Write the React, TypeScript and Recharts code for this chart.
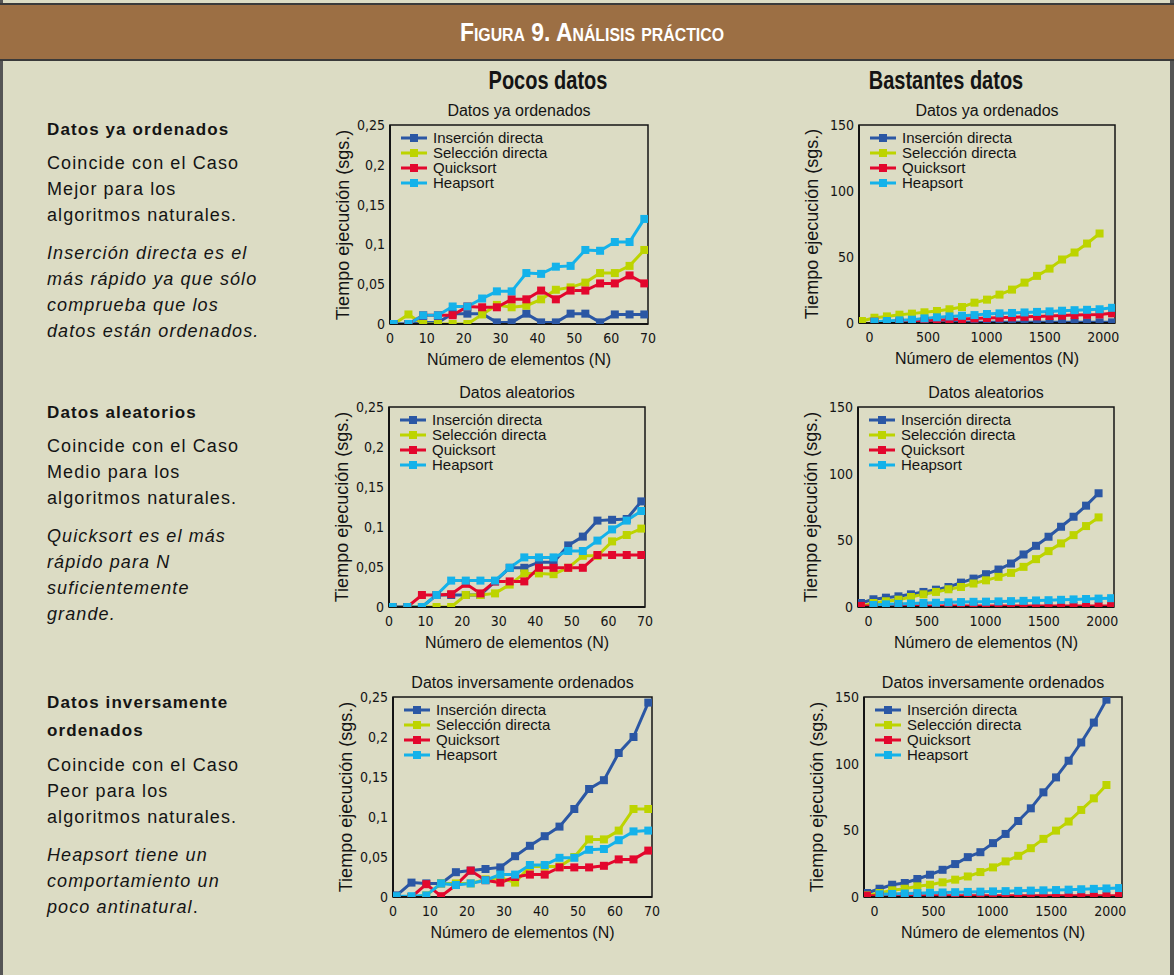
import { LineChart, Line, XAxis, YAxis, Legend, ReferenceArea } from "recharts"

const SANS = "'Liberation Sans', Arial, Helvetica, sans-serif"
const NARROW = "'Liberation Sans Narrow', 'Arial Narrow', 'DejaVu Sans Condensed', sans-serif"
const INK = "#141414"
const BG = "#dcdcc4"

const SERIES = [
  { key: "ins", name: "Inserción directa", color: "#2b57a4" },
  { key: "sel", name: "Selección directa", color: "#bdd400" },
  { key: "qs", name: "Quicksort", color: "#e3072d" },
  { key: "hs", name: "Heapsort", color: "#14b2ea" },
]

// x values (N)
const X_POCOS = [1, 5, 9, 13, 17, 21, 25, 29, 33, 37, 41, 45, 49, 53, 57, 61, 65, 69]
const X_BASTANTES = [-65, 42, 149, 256, 363, 470, 577, 684, 791, 898, 1005, 1112, 1219, 1326, 1433, 1540, 1647, 1754, 1861, 1968, 2075]

const TICKS_X_POCOS = [0, 10, 20, 30, 40, 50, 60, 70]
const TICKS_X_BASTANTES = [0, 500, 1000, 1500, 2000]
const TICKS_Y_POCOS = [0, 0.05, 0.1, 0.15, 0.2, 0.25]
const TICKS_Y_BASTANTES = [0, 50, 100, 150]

// Pocos datos - ya ordenados
const ORD_P_INS = [0, 0, 0.002, 0.002, 0.013, 0.013, 0.013, 0.002, 0.002, 0.013, 0.002, 0.002, 0.013, 0.013, 0.002, 0.012, 0.012, 0.012]
const ORD_P_SEL = [0, 0.012, 0, 0, 0, 0, 0.012, 0.024, 0.021, 0.023, 0.031, 0.043, 0.046, 0.052, 0.064, 0.064, 0.073, 0.093]
const ORD_P_QS = [0, 0, 0.011, 0.011, 0.011, 0.022, 0.021, 0.021, 0.031, 0.031, 0.042, 0.031, 0.042, 0.042, 0.051, 0.051, 0.061, 0.051]
const ORD_P_HS = [0, 0, 0.011, 0.011, 0.022, 0.022, 0.032, 0.041, 0.041, 0.064, 0.063, 0.072, 0.073, 0.093, 0.092, 0.103, 0.103, 0.132]

// Pocos datos - aleatorios
const ALE_P_INS = [0, 0, 0, 0.015, 0.015, 0.015, 0.015, 0.032, 0.049, 0.049, 0.056, 0.056, 0.077, 0.088, 0.108, 0.109, 0.11, 0.132]
const ALE_P_SEL = [0, 0, 0, 0, 0, 0.015, 0.015, 0.017, 0.028, 0.042, 0.042, 0.041, 0.049, 0.064, 0.064, 0.082, 0.09, 0.098]
const ALE_P_QS = [0, 0, 0.015, 0.015, 0.016, 0.029, 0.017, 0.032, 0.032, 0.032, 0.049, 0.049, 0.049, 0.049, 0.065, 0.065, 0.065, 0.065]
const ALE_P_HS = [0, 0, 0, 0.015, 0.033, 0.033, 0.033, 0.033, 0.049, 0.062, 0.062, 0.062, 0.07, 0.07, 0.083, 0.097, 0.108, 0.12]

// Pocos datos - inversamente ordenados
const INV_P_INS = [0.002, 0.018, 0.017, 0.017, 0.031, 0.033, 0.035, 0.037, 0.051, 0.064, 0.076, 0.088, 0.11, 0.135, 0.146, 0.18, 0.2, 0.243]
const INV_P_SEL = [0, 0, 0.002, 0.017, 0.017, 0.017, 0.022, 0.024, 0.018, 0.038, 0.038, 0.038, 0.05, 0.072, 0.072, 0.083, 0.11, 0.11]
const INV_P_QS = [0, 0, 0.016, 0.001, 0.015, 0.033, 0.021, 0.018, 0.025, 0.028, 0.028, 0.037, 0.037, 0.037, 0.039, 0.047, 0.047, 0.058]
const INV_P_HS = [0.001, 0.001, 0.002, 0.017, 0.015, 0.017, 0.021, 0.028, 0.028, 0.04, 0.04, 0.049, 0.049, 0.059, 0.06, 0.071, 0.082, 0.083]

// Bastantes datos - ya ordenados
const ORD_B_INS = [null, 0.5, 0.5, 0.5, 0.5, 0.5, 0.5, 0.5, 0.5, 0.5, 0.5, 0.5, 0.5, 0.5, 0.5, 0.5, 0.5, 0.5, 0.5, 0.5, 0.5]
const ORD_B_SEL = [1.5, 4, 5, 6.3, 7.1, 8.1, 9.1, 10.4, 12.1, 15.4, 17.7, 21.5, 25.3, 30.6, 35.7, 41.2, 48.1, 53.4, 60.2, 67.8, null]
const ORD_B_QS = [null, 1, 1, 1.2, 1.5, 1.8, 2.2, 2.5, 3, 3.5, 3.8, 4, 4.3, 4.7, 5, 5.3, 5.6, 6, 6.2, 6.5, 7.3]
const ORD_B_HS = [null, 1, 1.5, 2, 2.5, 3.5, 4.3, 5, 5.5, 6, 6.8, 7.3, 7.6, 8, 8.4, 8.8, 9.3, 9.7, 10, 10.4, 11.5]

// Bastantes datos - aleatorios
const ALE_B_INS = [3, 5.8, 7, 8, 9.5, 11.3, 13, 15, 18.3, 21.3, 24.6, 28.1, 32.6, 39.4, 45.9, 52.7, 60.2, 67.7, 76, 85.3, null]
const ALE_B_SEL = [0.5, 3, 4.3, 5.5, 7.5, 9.5, 11.3, 13.3, 15, 17.6, 20, 22.6, 25.6, 30.1, 35.9, 41.9, 47.7, 53.9, 60.7, 67.2, null]
const ALE_B_QS = [0.8, 0.8, 0.8, 0.8, 0.8, 0.8, 0.8, 0.8, 0.8, 0.8, 0.8, 0.8, 0.8, 0.8, 0.8, 0.8, 0.8, 0.8, 0.8, 0.8, 0.8]
const ALE_B_HS = [null, 1.5, 2, 2.3, 2.6, 3, 3.2, 3.5, 3.7, 3.9, 4, 4.2, 4.4, 4.6, 4.9, 5.1, 5.4, 5.7, 6, 6.3, 6.6]

// Bastantes datos - inversamente ordenados
const INV_B_INS = [3, 6.2, 9.2, 10.5, 13.5, 16.7, 20.4, 24.7, 29.9, 33.6, 40.4, 47.3, 57, 66.5, 78.5, 89.7, 102.2, 115.9, 130.8, 148, null]
const INV_B_SEL = [1.2, 3, 5, 6.2, 8, 9.2, 11, 13, 15.4, 18.7, 22.2, 26.7, 30.9, 36.6, 43.6, 49.8, 56.6, 65.3, 74, 84, null]
const INV_B_QS = [1, 1, 1, 1, 1, 1, 1, 1, 1, 1, 1, 1, 1, 1, 1, 1, 1, 1, 1, 1, 1]
const INV_B_HS = [null, 2, 2.3, 2.6, 2.9, 3.2, 3.4, 3.6, 3.8, 4, 4.2, 4.4, 4.6, 4.8, 5, 5.2, 5.5, 5.8, 6.1, 6.4, 6.7]

const PAD_L = 60
const PAD_T = 30
const PAD_R = 12
const PAD_B = 50

function Square(props: any) {
  const { cx, cy, stroke, value, index } = props
  if (cx == null || cy == null || value == null || Number.isNaN(cy)) return <g key={`d${index}`} />
  return <rect key={`d${index}`} x={cx - 4} y={cy - 4} width={8} height={8} fill={stroke} />
}

function LegendBox({ payload }: any) {
  const items = [...(payload ?? [])].sort(
    (a: any, b: any) =>
      SERIES.findIndex((s) => s.key === a.dataKey) - SERIES.findIndex((s) => s.key === b.dataKey)
  )
  return (
    <div style={{ fontFamily: SANS, fontSize: 15, color: INK }}>
      {items.map((p: any) => (
        <div key={p.dataKey} style={{ display: "flex", alignItems: "center", height: 15 }}>
          <svg width={30} height={10} style={{ flex: "none" }}>
            <line x1={1} y1={5} x2={27} y2={5} stroke={p.color} strokeWidth={3} />
            <rect x={10} y={1} width={8} height={8} fill={p.color} />
          </svg>
          <span style={{ marginLeft: 3, whiteSpace: "nowrap" }}>{p.value}</span>
        </div>
      ))}
    </div>
  )
}

function Text({ x, y, children, style, rotate, sx }: any) {
  return (
    <div
      style={{
        position: "absolute",
        left: x,
        top: y,
        transform: `translate(-50%, -50%)${rotate ? " rotate(-90deg)" : ""}${sx ? ` scaleX(${sx})` : ""}`,
        whiteSpace: "nowrap",
        color: INK,
        ...style,
      }}
    >
      {children}
    </div>
  )
}

function SortChart(props: any) {
  const { px, py, pw, ph, title, xs, ins, sel, qs, hs, big } = props
  const data = xs.map((x: number, i: number) => ({ x, ins: ins[i], sel: sel[i], qs: qs[i], hs: hs[i] }))
  const xDomain = big ? [-90, 2100] : [0, 70]
  const yDomain = big ? [0, 150] : [0, 0.25]
  const w = pw + PAD_L + PAD_R
  const h = ph + PAD_T + PAD_B
  const tickStyle = { fontFamily: NARROW, fontSize: 14, fill: INK }
  return (
    <>
      <Text x={px + pw / 2} y={py - 14} style={{ fontFamily: SANS, fontSize: 16 }}>
        {title}
      </Text>
      <Text x={px - 47} y={py + ph / 2} rotate style={{ fontFamily: SANS, fontSize: 18 }}>
        Tiempo ejecución (sgs.)
      </Text>
      <Text x={px + pw / 2} y={py + ph + 36} style={{ fontFamily: SANS, fontSize: 16 }}>
        Número de elementos (N)
      </Text>
      <div style={{ position: "absolute", left: px - PAD_L, top: py - PAD_T, width: w, height: h }}>
        <LineChart width={w} height={h} data={data} margin={{ top: PAD_T, right: PAD_R, bottom: 0, left: 0 }}>
          <XAxis
            dataKey="x"
            type="number"
            domain={xDomain}
            ticks={big ? TICKS_X_BASTANTES : TICKS_X_POCOS}
            interval={0}
            allowDataOverflow
            height={PAD_B}
            tickLine={false}
            tickSize={0}
            tickMargin={9}
            axisLine={{ stroke: INK, strokeWidth: 2 }}
            tick={tickStyle}
          />
          <YAxis
            type="number"
            domain={yDomain}
            ticks={big ? TICKS_Y_BASTANTES : TICKS_Y_POCOS}
            interval={0}
            allowDataOverflow
            width={PAD_L}
            tickLine={false}
            tickSize={0}
            tickMargin={5}
            axisLine={{ stroke: INK, strokeWidth: 2 }}
            tick={tickStyle}
            tickFormatter={(v: number) => String(v).replace(".", ",")}
          />
          <ReferenceArea
            x1={xDomain[0]}
            x2={xDomain[1]}
            y1={yDomain[0]}
            y2={yDomain[1]}
            fill="none"
            stroke={INK}
            strokeWidth={1.5}
            fillOpacity={0}
            ifOverflow="extendDomain"
          />
          <Legend
            layout="vertical"
            align="center"
            verticalAlign="middle"
            content={<LegendBox />}
            wrapperStyle={{ position: "absolute", top: PAD_T + 5, left: PAD_L + 10, width: "auto", height: "auto" }}
          />
          {SERIES.map((s) => (
            <Line
              key={s.key}
              type="linear"
              dataKey={s.key}
              name={s.name}
              stroke={s.color}
              strokeWidth={3}
              dot={<Square />}
              activeDot={false}
              connectNulls={false}
              isAnimationActive={false}
            />
          ))}
        </LineChart>
      </div>
    </>
  )
}

function Block({ top, heading, body, note, headLine = 26 }: any) {
  return (
    <div style={{ position: "absolute", left: 47, top, fontFamily: SANS, color: INK, letterSpacing: 1.1 }}>
      <div style={{ fontWeight: "bold", fontSize: 17, lineHeight: `${headLine}px` }}>
        {heading.map((l: string, i: number) => (
          <div key={i}>{l}</div>
        ))}
      </div>
      <div style={{ fontSize: 18, lineHeight: "26px", marginTop: 7 }}>
        {body.map((l: string, i: number) => (
          <div key={i}>{l}</div>
        ))}
      </div>
      <div style={{ fontSize: 18, lineHeight: "26px", marginTop: 12, fontStyle: "italic" }}>
        {note}
      </div>
    </div>
  )
}

export default function App() {
  return (
    <div
      style={{
        position: "absolute",
        left: 0,
        top: 0,
        width: 1174,
        height: 975,
        background: BG,
        overflow: "hidden",
        fontFamily: SANS,
      }}
    >
      <div style={{ position: "absolute", left: 0, top: 0, width: 3, height: 975, background: "#555" }} />
      <div style={{ position: "absolute", left: 1170, top: 0, width: 4, height: 975, background: "#555" }} />
      <div
        style={{
          position: "absolute",
          left: 0,
          top: 3,
          width: 1174,
          height: 54,
          background: "#9c6f44",
          borderTop: "2px solid #3a3a3a",
          borderBottom: "2px solid #3a3a3a",
        }}
      />
      <Text
        x={592}
        y={32}
        sx={0.88}
        style={{ fontFamily: SANS, fontWeight: "bold", fontSize: 26, color: "#fff", fontVariant: "small-caps" }}
      >
        Figura 9. Análisis práctico
      </Text>
      <Text x={548} y={80} sx={0.8} style={{ fontFamily: SANS, fontWeight: "bold", fontSize: 25 }}>
        Pocos datos
      </Text>
      <Text x={946} y={80} sx={0.8} style={{ fontFamily: SANS, fontWeight: "bold", fontSize: 25 }}>
        Bastantes datos
      </Text>

      <Block
        top={117}
        heading={["Datos ya ordenados"]}
        body={["Coincide con el Caso", "Mejor para los", "algoritmos naturales."]}
        note={
          <>
            <div>Inserción directa es el</div>
            <div>más rápido ya que sólo</div>
            <div>comprueba que los</div>
            <div>datos están ordenados.</div>
          </>
        }
      />
      <Block
        top={400}
        heading={["Datos aleatorios"]}
        body={["Coincide con el Caso", "Medio para los", "algoritmos naturales."]}
        note={
          <>
            <div>Quicksort es el más</div>
            <div>rápido para N</div>
            <div>suficientemente</div>
            <div>grande.</div>
          </>
        }
      />
      <Block
        top={689}
        headLine={28}
        heading={["Datos inversamente", "ordenados"]}
        body={["Coincide con el Caso", "Peor para los", "algoritmos naturales."]}
        note={
          <>
            <div>Heapsort tiene un</div>
            <div>comportamiento un</div>
            <div>
              poco antinatural<span style={{ fontStyle: "normal" }}>.</span>
            </div>
          </>
        }
      />

      <SortChart px={390} py={125} pw={258} ph={199} title="Datos ya ordenados" xs={X_POCOS}
        ins={ORD_P_INS} sel={ORD_P_SEL} qs={ORD_P_QS} hs={ORD_P_HS} />
      <SortChart px={859} py={125} pw={256} ph={198} title="Datos ya ordenados" xs={X_BASTANTES} big
        ins={ORD_B_INS} sel={ORD_B_SEL} qs={ORD_B_QS} hs={ORD_B_HS} />
      <SortChart px={389} py={407} pw={256} ph={200} title="Datos aleatorios" xs={X_POCOS}
        ins={ALE_P_INS} sel={ALE_P_SEL} qs={ALE_P_QS} hs={ALE_P_HS} />
      <SortChart px={858} py={407} pw={256} ph={200} title="Datos aleatorios" xs={X_BASTANTES} big
        ins={ALE_B_INS} sel={ALE_B_SEL} qs={ALE_B_QS} hs={ALE_B_HS} />
      <SortChart px={393} py={697} pw={259} ph={200} title="Datos inversamente ordenados" xs={X_POCOS}
        ins={INV_P_INS} sel={INV_P_SEL} qs={INV_P_QS} hs={INV_P_HS} />
      <SortChart px={864} py={697} pw={258} ph={200} title="Datos inversamente ordenados" xs={X_BASTANTES} big
        ins={INV_B_INS} sel={INV_B_SEL} qs={INV_B_QS} hs={INV_B_HS} />
    </div>
  )
}
